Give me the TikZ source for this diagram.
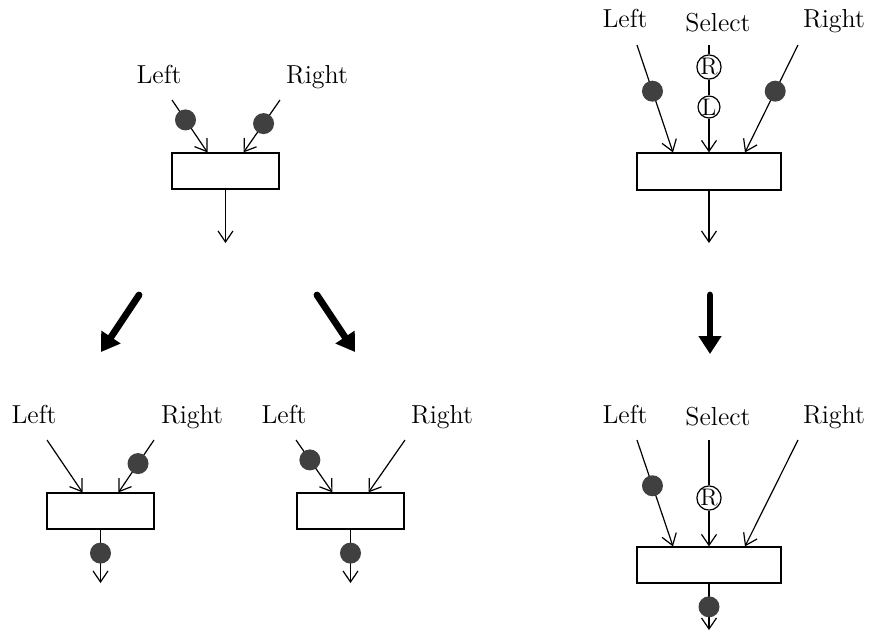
\documentclass[tikz,border=0pt]{standalone}
\usetikzlibrary{arrows.meta, positioning, calc}
\tikzstyle{arrow} = [-{Straight Barb[length=5.5pt,width=7.5pt]}]
\tikzstyle{bigarrow} = [line width=3.4pt, line cap=round, -{Triangle[length=9pt,width=11pt]}]
\tikzstyle{block} = [rectangle, draw=black, fill=white, minimum width=53.5pt, minimum height=18pt, inner sep=0pt]
\tikzstyle{token} = [circle, fill=black!75, minimum size=10.5pt, inner sep=0pt]
\tikzstyle{sel} = [circle, draw=black, fill=white, minimum size=10.5pt, inner sep=0pt, font=\fontsize{12}{12}\selectfont]

\begin{document}
\begin{tikzpicture}[x=0.5pt, y=-0.5pt, semithick,
        label/.style={font=\fontsize{13}{15}\selectfont, anchor=base, inner sep=0pt}]
    \useasboundingbox (0,0) rectangle (869,639);

    % top left: two inputs, both with a token
    \node [block] (mergeA) at (225.5,171) {};
    \node [label] (leftA) at (159,83) {Left};
    \node [label] (rightA) at (317,83) {Right};
    \coordinate (inLA) at (172,100);
    \coordinate (inRA) at (280,100);
    \coordinate (outA) at (225.5,243);
    \draw [arrow] (inLA) -- node[token, pos=0.38] (tokLA) {} ([xshift=-9pt]mergeA.north);
    \draw [arrow] (inRA) -- node[token, pos=0.45] (tokRA) {} ([xshift=9pt]mergeA.north);
    \draw [arrow] (mergeA.south) -- (outA);

    % top right: select with R and L
    \node [block, minimum width=72pt, minimum height=18.5pt] (selA) at (709,171.5) {};
    \node [label] (leftB) at (625,27) {Left};
    \node [label] (selectB) at (718,31) {Select};
    \node [label] (rightB) at (834,27) {Right};
    \coordinate (inLB) at (637,45);
    \coordinate (inSB) at (709,45);
    \coordinate (inRB) at (798,45);
    \coordinate (outB) at (709,243);
    \node [sel] (rB) at (709,67) {R};
    \node [sel] (lB) at (709,107) {L};
    \draw [arrow] (inLB) -- node[token, pos=0.43] (tokLB) {} ([xshift=-18pt]selA.north);
    \draw (inSB) -- (rB);
    \draw (rB) -- (lB);
    \draw [arrow] (lB) -- (selA.north);
    \draw [arrow] (inRB) -- node[token, pos=0.43] (tokRB) {} ([xshift=18pt]selA.north);
    \draw [arrow] (selA.south) -- (outB);

    % big arrows
    \coordinate (bigA1) at (139,295);
    \coordinate (bigA2) at (101,352);
    \coordinate (bigB1) at (317,295);
    \coordinate (bigB2) at (355,352);
    \coordinate (bigC1) at (710,295);
    \coordinate (bigC2) at (710,354);
    \draw [bigarrow] (bigA1) -- (bigA2);
    \draw [bigarrow] (bigB1) -- (bigB2);
    \draw [bigarrow] (bigC1) -- (bigC2);

    % bottom left: right token fired
    \node [block] (mergeC) at (100.5,511) {};
    \node [label] (leftC) at (34,423) {Left};
    \node [label] (rightC) at (192,423) {Right};
    \coordinate (inLC) at (47,440);
    \coordinate (inRC) at (154,440);
    \coordinate (outC) at (100.5,583);
    \draw [arrow] (inLC) -- ([xshift=-9pt]mergeC.north);
    \draw [arrow] (inRC) -- node[token, pos=0.45] (tokRC) {} ([xshift=9pt]mergeC.north);
    \draw [arrow] (mergeC.south) -- node[token, pos=0.44] (tokOC) {} (outC);

    % bottom middle: left token fired
    \node [block] (mergeD) at (350.5,511) {};
    \node [label] (leftD) at (284,423) {Left};
    \node [label] (rightD) at (442,423) {Right};
    \coordinate (inLD) at (296,440);
    \coordinate (inRD) at (405,440);
    \coordinate (outD) at (350.5,583);
    \draw [arrow] (inLD) -- node[token, pos=0.38] (tokLD) {} ([xshift=-9pt]mergeD.north);
    \draw [arrow] (inRD) -- ([xshift=9pt]mergeD.north);
    \draw [arrow] (mergeD.south) -- node[token, pos=0.44] (tokOD) {} (outD);

    % bottom right: select after firing
    \node [block, minimum width=72pt] (selE) at (709,565) {};
    \node [label] (leftE) at (625,423) {Left};
    \node [label] (selectE) at (718,425) {Select};
    \node [label] (rightE) at (834,423) {Right};
    \coordinate (inLE) at (637,440);
    \coordinate (inSE) at (709,440);
    \coordinate (inRE) at (798,440);
    \coordinate (outE) at (709,630);
    \node [sel] (rE) at (709,498) {R};
    \draw [arrow] (inLE) -- node[token, pos=0.43] (tokLE) {} ([xshift=-18pt]selE.north);
    \draw (inSE) -- (rE);
    \draw [arrow] (rE) -- (selE.north);
    \draw [arrow] (inRE) -- ([xshift=18pt]selE.north);
    \draw [arrow] (selE.south) -- node[token, pos=0.5] (tokOE) {} (outE);
\end{tikzpicture}
\end{document}
